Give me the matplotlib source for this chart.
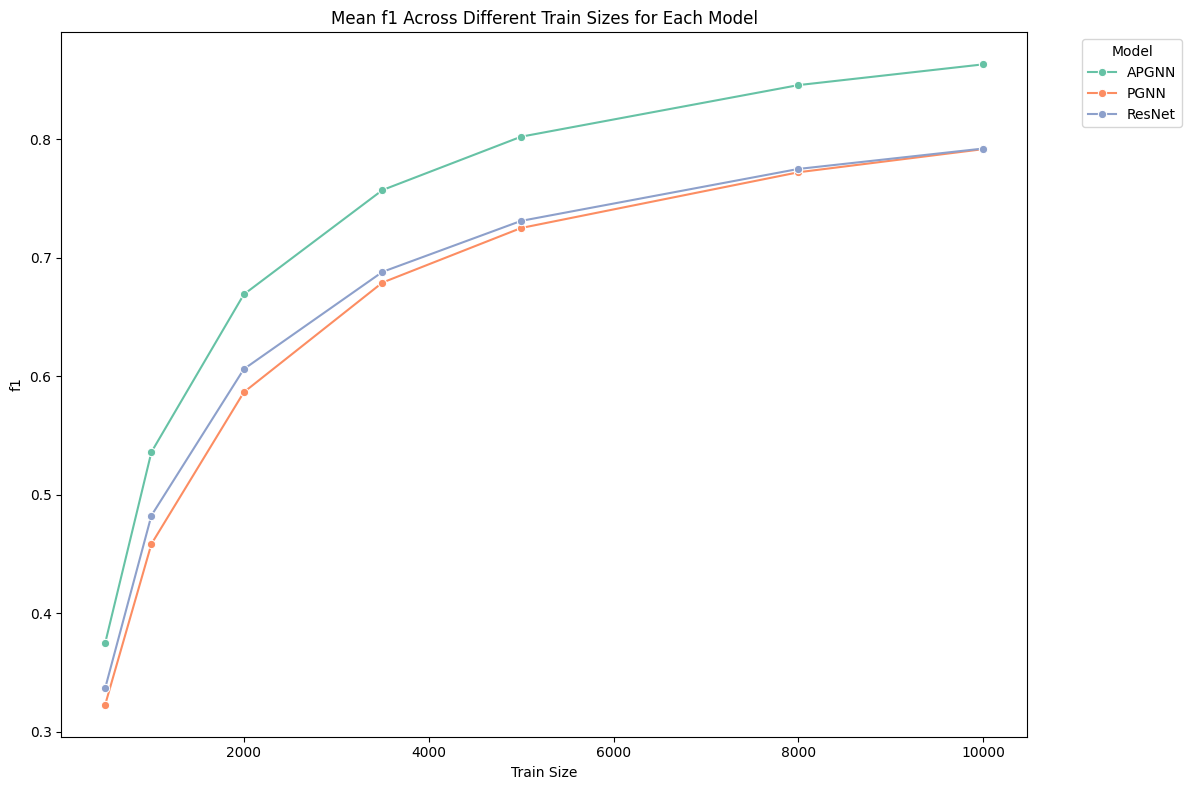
import matplotlib
matplotlib.use("Agg")
import matplotlib.pyplot as plt
import seaborn as sns
import pandas as pd

train_sizes = [500, 1000, 2000, 3500, 5000, 8000, 10000]
apgnn = [0.375, 0.536, 0.669, 0.757, 0.802, 0.8455, 0.863]
pgnn = [0.323, 0.4585, 0.5865, 0.679, 0.725, 0.772, 0.7915]
resnet = [0.337, 0.4825, 0.606, 0.688, 0.731, 0.7748, 0.792]
models = ["APGNN", "PGNN", "ResNet"]

rows = []
for m, vals in zip(models, [apgnn, pgnn, resnet]):
    for t, v in zip(train_sizes, vals):
        rows.append({"Model": m, "Train Size": t, "f1": v})
df = pd.DataFrame(rows)

fig, ax = plt.subplots(figsize=(12, 8), dpi=100)
sns.lineplot(data=df, x="Train Size", y="f1", hue="Model", marker="o",
             palette="Set2", ax=ax)
ax.set_title("Mean f1 Across Different Train Sizes for Each Model")
ax.set_xlabel("Train Size")
ax.set_ylabel("f1")
ax.legend(title="Model", bbox_to_anchor=(1.05, 1), loc="upper left")
fig.tight_layout()
fig.savefig("out.png", dpi=100, bbox_inches="tight")
